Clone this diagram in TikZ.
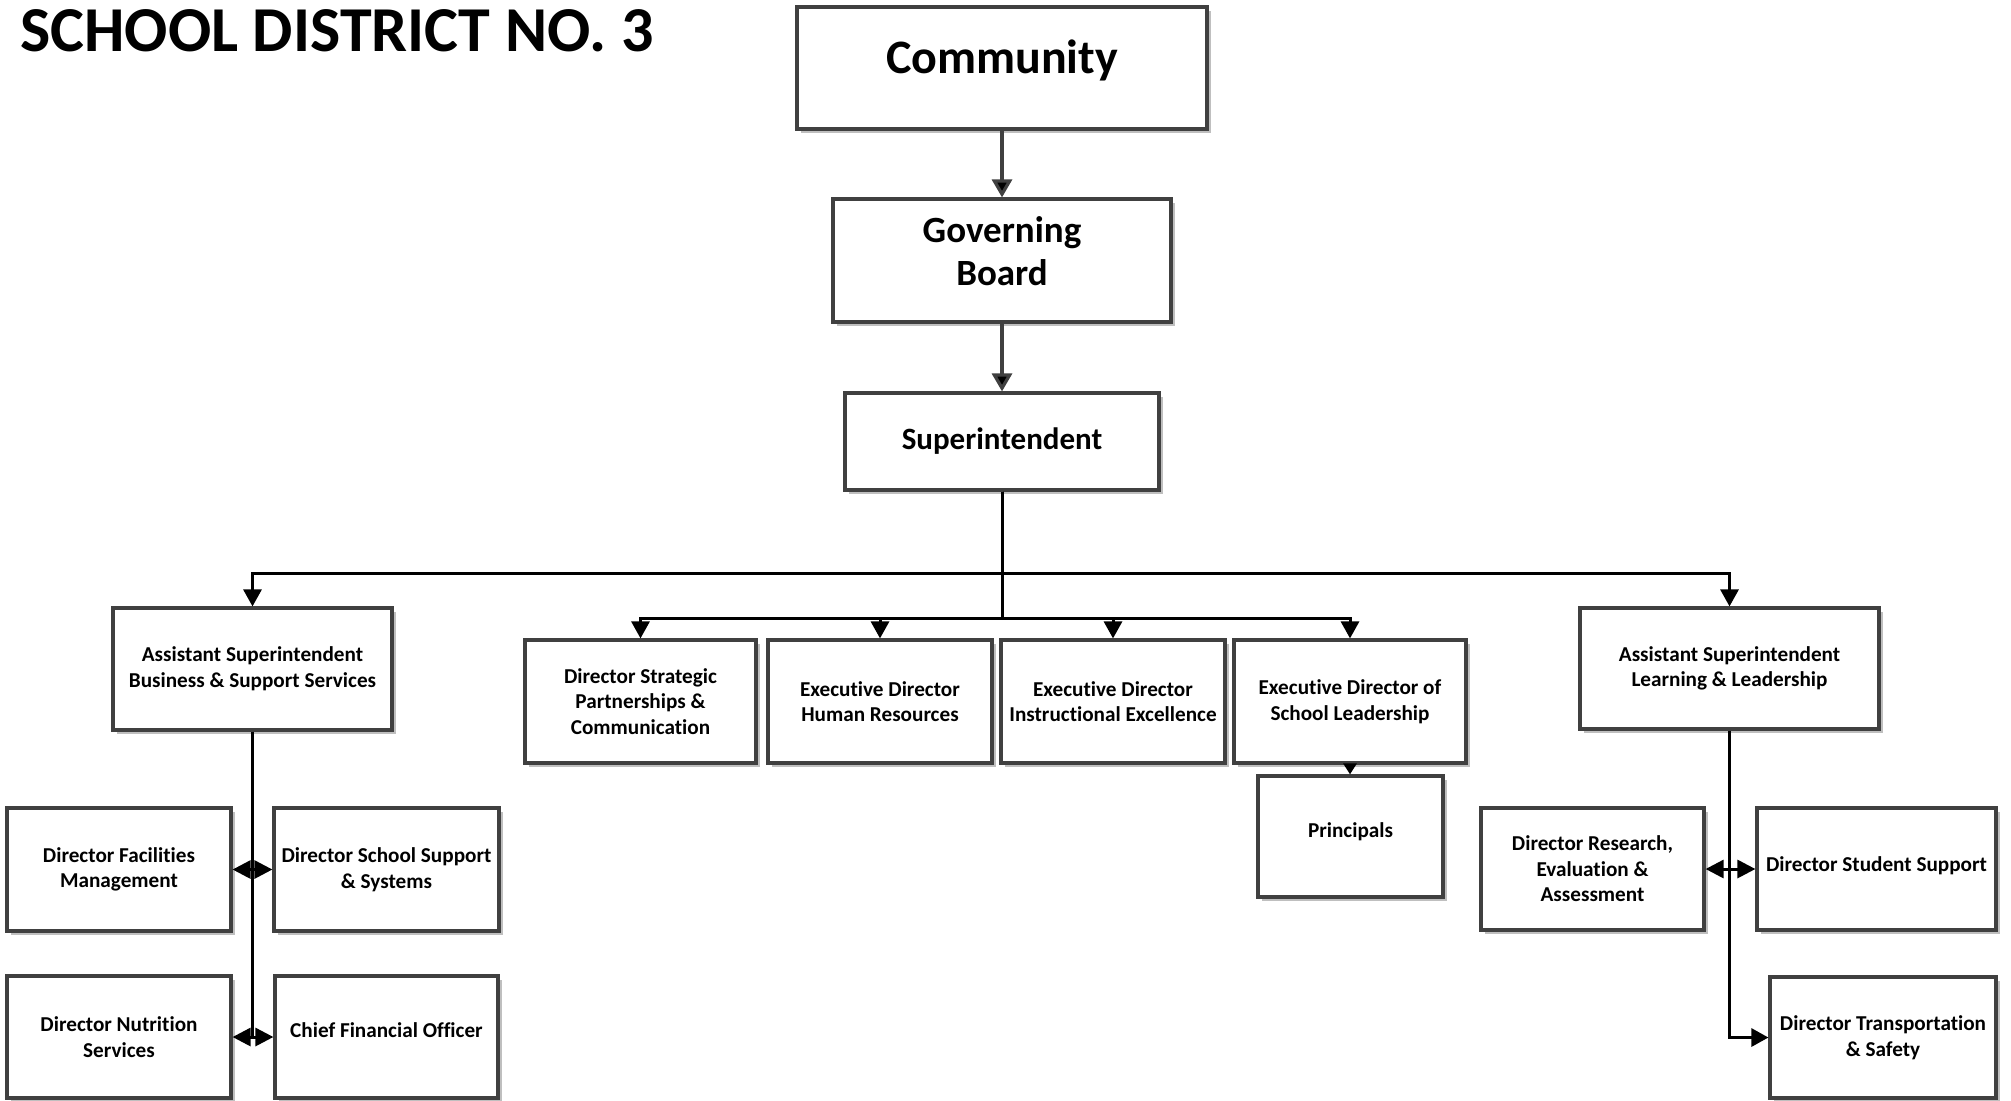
\documentclass[tikz,border=0pt]{standalone}
\usepackage{fontspec}
\setmainfont{Carlito}[Ligatures=CommonOff]
\usepackage{tikz}
\usetikzlibrary{arrows.meta, positioning, shadows}

\definecolor{boxline}{HTML}{404040}

\tikzset{
  post/.style   = {draw=boxline, line width=1.6pt, fill=white, rectangle, align=center,
                   font=\bfseries\fontsize{10.6}{12.8}\selectfont,
                   minimum width=112pt, minimum height=61pt, inner sep=1pt,
                   drop shadow={shadow xshift=2pt, shadow yshift=-2pt, fill=black, opacity=0.25}},
  link/.style   = {draw, line width=1.5pt, -{Triangle[length=8.5pt, width=9pt]}},
  twoway/.style = {draw, line width=1.5pt,
                   {Triangle[length=9pt, width=9pt]}-{Triangle[length=9pt, width=9pt]}},
  feed/.style   = {draw=boxline, line width=1.6pt, -{Triangle[length=9pt, width=10pt]}},
}

\begin{document}
\begin{tikzpicture}[x=0.5pt, y=-0.5pt]

\useasboundingbox (0,0) rectangle (2011,1100);
\fill [white] (0,0) rectangle (2011,1100);

\node [anchor=base west, inner sep=0, font=\bfseries\fontsize{32}{36}\selectfont] (title) at (20,51) {SCHOOL DISTRICT NO. 3};

% top of the chart
\node [post, minimum width=205pt, minimum height=61pt, text depth=11.6pt,
       font=\bfseries\fontsize{24}{28}\selectfont                          ] (comm)  at (1002,68)    {Community};
\node [post, minimum width=169pt, minimum height=61.5pt, text depth=9pt,
       font=\bfseries\fontsize{18.5}{21.5}\selectfont                      ] (board) at (1002,260.5) {Governing\\Board};
\node [post, minimum width=157pt, minimum height=48.5pt,
       font=\bfseries\fontsize{15.5}{18}\selectfont                        ] (super) at (1002,441.5) {Superintendent};

% second level
\node [post, minimum width=139.5pt                    ] (bss)   at (252.5,669)   {Assistant Superintendent\\Business \& Support Services};
\node [post, minimum width=115.5pt, minimum height=61.5pt] (strat) at (640.5,701.5) {Director Strategic\\Partnerships \&\\Communication};
\node [post, minimum height=61.5pt                    ] (hr)    at (880,701.5)   {Executive Director\\Human Resources};
\node [post, minimum height=61.5pt                    ] (instr) at (1113,701.5)  {Executive Director\\Instructional Excellence};
\node [post, minimum width=116pt, minimum height=61.5pt] (lead)  at (1350,701.5)  {Executive Director of\\School Leadership};
\node [post, minimum width=149.5pt, minimum height=60.5pt] (ll)    at (1729.5,668.5) {Assistant Superintendent\\Learning \& Leadership};

% third level
\node [post, minimum width=92.5pt, minimum height=60.5pt, text depth=6pt] (princ) at (1350.5,836.5) {Principals};
\node [post, minimum height=61.5pt                    ] (fac)   at (119,869.5)   {Director Facilities\\Management};
\node [post, minimum width=112.5pt, minimum height=61.5pt] (sss)   at (386.5,869.5) {Director School Support\\\& Systems};
\node [post                                           ] (nutr)  at (119,1037)    {Director Nutrition\\Services};
\node [post, minimum width=111.5pt, text depth=7pt    ] (cfo)   at (386.5,1037)  {Chief Financial Officer};
\node [post, minimum width=111.5pt                    ] (res)   at (1592.5,869)  {Director Research,\\Evaluation \&\\Assessment};
\node [post, minimum width=119.5pt, text depth=5pt    ] (stud)  at (1876.5,869)  {Director Student Support};
\node [post, minimum width=113pt, minimum height=60.5pt] (trans) at (1883,1037.5) {Director Transportation\\\& Safety};

\path [feed] (comm)  edge (board);
\path [feed] (board) edge (super);

\draw [link] (super.south) -- ++(0,82) -| (bss.north);
\draw [link] (super.south) -- ++(0,82) -| (ll.north);
\foreach \n in {strat, hr, instr, lead}
  \draw [link] (super.south) -- ++(0,127) -| (\n.north);
\draw [link, -{Triangle[length=5.5pt, width=6.5pt]}] (lead.south) -- (lead.south |- princ.north);

\draw [line width=1.5pt] (bss.south) -- (bss.south |- nutr.east);
\path [twoway] (fac)  edge (sss)
               (nutr) edge (cfo)
               (res)  edge (stud);
\draw [link] (ll.south) |- (trans.west);

\end{tikzpicture}
\end{document}
